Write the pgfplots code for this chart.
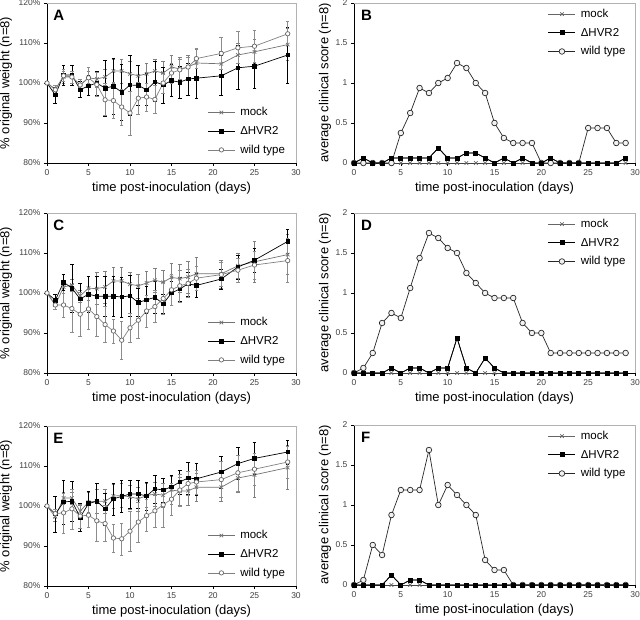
\documentclass[border=0pt]{standalone}
\usepackage{fontspec}
\setmainfont{Liberation Sans}
\usepackage{pgfplots}
\usepackage{pgfplotstable}
\pgfplotsset{compat=1.18}

% weight panels: day, mock, err, dHVR2, err, wild type, err
\pgfplotstableread{
d m me h he w we
0 100 0 100 0 100 0
1 98.5 1 97 2 98.3 1
2 101.5 1.5 102 2.5 101.8 1.5
3 101.5 1.5 102 2.5 101.5 1.5
4 99.5 1 98.3 2 99.5 1.5
5 101.3 1.5 99.3 2.5 101.3 2.5
6 101 2 100 3 99.6 3
7 101.5 2 98.7 7 95.8 4
8 103 3 99.2 7 95.6 4.5
9 103 3 97.7 7 94 4.5
10 102.3 3 99.5 7.5 92.5 5.5
11 101.8 2.5 99.4 5 96.2 4
12 102.3 2.5 98.3 4 96.5 3.5
13 103 3 100.3 5 95.9 3.5
14 102.5 3 99.5 4.5 100 2.5
15 104 3 100.6 4 102.5 2.5
16 103.5 3 100.2 4 103.3 2.5
17 104 3 101 4 104 2.5
18 105 3.5 101.2 5 106.1 2.5
21 104.8 3 101.8 5 107.4 4
23 107 3 103.8 5.5 108.8 4
25 107.8 3 104.2 5.5 109.2 4
29 109.6 4 107 7 112.3 3
}\dataA

\pgfplotstableread{
d m me h he w we
0 100 0 100 0 100 0
1 97 1 98.2 1.5 97 1
2 101.5 1.5 102.7 2 97 3
3 102 1.5 101.2 6 96.1 6
4 99.3 1.5 98.5 4 94.7 5.5
5 101.2 3 99.7 4.5 96 5
6 101.1 4 99.2 5 94.1 5
7 101.5 4 99.2 5 92.1 4.5
8 103 3.5 99.2 5 90.5 3
9 103 3.5 99 5 88.2 4.8
10 102.2 3 99.3 5 91.3 3.5
11 101.8 3 97.6 3.5 93.2 4.5
12 102.5 3 98.3 3.5 95.5 4
13 103.2 3 98.9 4 96.6 4
14 102.7 3 97.3 2.5 98.6 4
15 103.9 3.5 100 3 100.8 4
16 103.6 3.5 101 3 101.8 4
17 104 4 102.3 3 102.4 3.5
18 104.8 4 101.9 3 103.7 3
21 104.8 3.5 103.5 2.5 104.6 3
23 106.8 3 106.5 3 105.7 3
25 107.8 5 108.2 3 107 3.5
29 109.6 5 112.9 3 108.1 5.5
}\dataC

\pgfplotstableread{
d m me h he w we
0 100 0 100 0 100 0
1 97.3 1.2 98 4.5 98.1 1
2 102 1.5 101 5.5 98.3 5
3 102 1.5 101.2 5 99.3 5
4 98.7 1.5 97.2 3.5 97.5 3
5 101 2.5 100.6 3 97.7 3
6 101.2 3 101.2 4.5 96.3 5
7 101.2 3 99.3 4 95.6 4.5
8 102.5 3 101.8 4 92 3.5
9 102.6 3 102.4 4 91.8 4
10 102.3 3 103 3.5 93.7 5
11 101.8 3 103 3.5 96 5
12 102.6 3 102.5 3.5 97.6 4
13 103 3 104.3 3.5 98.8 4
14 102.7 3 104 3 100.3 5.5
15 104 3.5 104.8 3 101.7 4
16 103.7 3.5 106 3 104 4
17 103.8 3.5 107 4 105.6 3
18 104.7 3.5 106.8 4 106 3
21 104.7 3.5 108.5 4 106.6 4.5
23 107 3.5 110.6 4 108.3 4.5
25 107.8 5.5 111.9 4 109.2 4
29 109.6 5.5 113.5 3 111 4
}\dataE

% clinical score panels: day, mock, dHVR2, wild type
\pgfplotstableread{
d m h w
0 0 0 0
1 0 0.0625 0
2 0 0 0
3 0 0 0
4 0 0.0625 0
5 0 0.0625 0.375
6 0 0.0625 0.625
7 0 0.0625 0.9375
8 0 0.0625 0.875
9 0 0.1875 1.0
10 0 0.0625 1.0625
11 0 0.0625 1.25
12 0 0.125 1.1875
13 0 0.125 1.0
14 0 0.0625 0.875
15 0 0 0.5
16 0 0.0625 0.3125
17 0 0 0.25
18 0 0.0625 0.25
19 0 0 0.25
20 0 0 0
21 0 0.0625 0
22 0 0 0
23 0 0 0
24 0 0 0
25 0 0 0.4375
26 0 0 0.4375
27 0 0 0.4375
28 0 0 0.25
29 0 0.0625 0.25
}\dataB

\pgfplotstableread{
d m h w
0 0 0 0
1 0 0 0.0625
2 0 0 0.25
3 0 0 0.625
4 0 0.0625 0.75
5 0 0 0.6875
6 0 0.0625 1.0625
7 0 0.0625 1.4375
8 0 0 1.75
9 0 0.0625 1.6875
10 0 0.0625 1.5625
11 0 0.4375 1.5
12 0 0.0625 1.25
13 0 0 1.125
14 0 0.1875 1.0
15 0 0.0625 0.9375
16 0 0 0.9375
17 0 0 0.9375
18 0 0 0.625
19 0 0 0.5
20 0 0 0.5
21 0 0 0.25
22 0 0 0.25
23 0 0 0.25
24 0 0 0.25
25 0 0 0.25
26 0 0 0.25
27 0 0 0.25
28 0 0 0.25
29 0 0 0.25
}\dataD

\pgfplotstableread{
d m h w
0 0 0 0
1 0 0 0.0625
2 0 0 0.5
3 0 0 0.375
4 0 0.125 0.875
5 0 0 1.1875
6 0 0.0625 1.1875
7 0 0.0625 1.1875
8 0 0 1.6875
9 0 0 1.0
10 0 0 1.25
11 0 0 1.125
12 0 0 1.0
13 0 0 0.875
14 0 0 0.3125
15 0 0 0.1875
16 0 0 0.1875
17 0 0 0
18 0 0 0
19 0 0 0
20 0 0 0
21 0 0 0
22 0 0 0
23 0 0 0
24 0 0 0
25 0 0 0
26 0 0 0
27 0 0 0
28 0 0 0
29 0 0 0
}\dataF

\pgfplotsset{
  panel/.style={
    scale only axis,
    xmin=0, xmax=30,
    xtick={0,5,...,30},
    axis x line*=bottom, axis y line*=left,
    axis line style={black, line width=0.8pt},
    tick align=outside,
    major tick length=3pt,
    tick style={black, line width=0.6pt},
    ticklabel style={font=\fontsize{8.5}{9}\selectfont, text=black!75},
    /pgf/number format/assume math mode=true,
    xlabel={time post-inoculation (days)},
    label style={font=\fontsize{13}{14}\selectfont},
    xlabel style={at={(axis description cs:0.5,-0.155)}, anchor=center},
    legend cell align=left,
    legend style={draw=none, fill=none, font=\fontsize{11.5}{12}\selectfont,
      inner sep=0pt, row sep=5pt, column sep=3pt},
    legend image code/.code={\draw[mark repeat=2, mark phase=2] plot coordinates {(0pt,0pt) (13.5pt,0pt) (27pt,0pt)};},
    clip=false,
  },
  wpanel/.style={panel, width=249pt, height=160pt,
    ymin=80, ymax=120, ytick={80,90,...,120},
    yticklabel={\pgfmathprintnumber{\tick}\%},
    ylabel={\% original weight (n=8)},
    ylabel style={at={(axis description cs:-0.165,0.5)}, anchor=center},
    legend style={at={(0.644,0.36)}, anchor=north west}},
  spanel/.style={panel, width=281pt, height=160pt,
    ymin=0, ymax=2, ytick={0,0.5,...,2},
    ylabel={average clinical score (n=8)},
    ylabel style={at={(axis description cs:-0.103,0.5)}, anchor=center},
    legend style={at={(0.69,0.975)}, anchor=north west}},
  ebar/.style={error bars/.cd, y dir=both, y explicit,
    error bar style={#1, line width=0.6pt, solid},
    error mark options={rotate=90, #1, mark size=1.8pt, line width=0.6pt}},
  mockL/.style={black!55, line width=0.7pt, mark=x, mark size=2.5pt, mark options={solid}, ebar=black!50},
  hvrL/.style={black, line width=0.7pt, mark=square*, mark size=1.8pt, mark options={solid}, ebar=black},
  wtL/.style={black!50, line width=0.7pt, mark=*, mark size=2.2pt, mark options={solid, fill=white, draw=black!60}, ebar=black!45},
  mockR/.style={black!60, line width=0.7pt, mark=x, mark size=2.5pt, mark options={solid}},
  hvrR/.style={black, line width=0.7pt, mark=square*, mark size=2pt, mark options={solid}},
  wtR/.style={black!85, line width=0.7pt, mark=*, mark size=2.8pt, mark options={solid, fill=gray!10, draw=black!85}},
}

\newcommand{\frameit}{\draw[gray!60, line width=0.8pt] (rel axis cs:0,1) -- (rel axis cs:1,1) -- (rel axis cs:1,0);}
\newcommand{\panelletter}[1]{\node[anchor=north west, inner sep=0pt, font=\bfseries\fontsize{15}{15}\selectfont] at (rel axis cs:0.025,0.955) {#1};}

\begin{document}
\begin{tikzpicture}[x=1pt, y=1pt]
\useasboundingbox (0,0) rectangle (640,619);

% A
\begin{axis}[wpanel, at={(47pt,456pt)}, anchor=south west]
\frameit
\addplot[mockL] table[x=d, y=m, y error=me] {\dataA};
\addplot[hvrL] table[x=d, y=h, y error=he] {\dataA};
\addplot[wtL] table[x=d, y=w, y error=we] {\dataA};
\legend{mock, ΔHVR2, wild type}
\panelletter{A}
\end{axis}

% B
\begin{axis}[spanel, at={(354pt,456pt)}, anchor=south west]
\frameit
\addplot[mockR] table[x=d, y=m] {\dataB};
\addplot[hvrR] table[x=d, y=h] {\dataB};
\addplot[wtR] table[x=d, y=w] {\dataB};
\addplot[hvrR, forget plot] table[x=d, y=h] {\dataB};
\legend{mock, ΔHVR2, wild type}
\panelletter{B}
\end{axis}

% C
\begin{axis}[wpanel, at={(47pt,246pt)}, anchor=south west]
\frameit
\addplot[mockL] table[x=d, y=m, y error=me] {\dataC};
\addplot[hvrL] table[x=d, y=h, y error=he] {\dataC};
\addplot[wtL] table[x=d, y=w, y error=we] {\dataC};
\legend{mock, ΔHVR2, wild type}
\panelletter{C}
\end{axis}

% D
\begin{axis}[spanel, at={(354pt,246pt)}, anchor=south west]
\frameit
\addplot[mockR] table[x=d, y=m] {\dataD};
\addplot[hvrR] table[x=d, y=h] {\dataD};
\addplot[wtR] table[x=d, y=w] {\dataD};
\addplot[hvrR, forget plot] table[x=d, y=h] {\dataD};
\legend{mock, ΔHVR2, wild type}
\panelletter{D}
\end{axis}

% E
\begin{axis}[wpanel, at={(47pt,33pt)}, anchor=south west]
\frameit
\addplot[mockL] table[x=d, y=m, y error=me] {\dataE};
\addplot[hvrL] table[x=d, y=h, y error=he] {\dataE};
\addplot[wtL] table[x=d, y=w, y error=we] {\dataE};
\legend{mock, ΔHVR2, wild type}
\panelletter{E}
\end{axis}

% F
\begin{axis}[spanel, at={(354pt,34pt)}, anchor=south west]
\frameit
\addplot[mockR] table[x=d, y=m] {\dataF};
\addplot[hvrR] table[x=d, y=h] {\dataF};
\addplot[wtR] table[x=d, y=w] {\dataF};
\addplot[hvrR, forget plot] table[x=d, y=h] {\dataF};
\legend{mock, ΔHVR2, wild type}
\panelletter{F}
\end{axis}

\end{tikzpicture}
\end{document}
